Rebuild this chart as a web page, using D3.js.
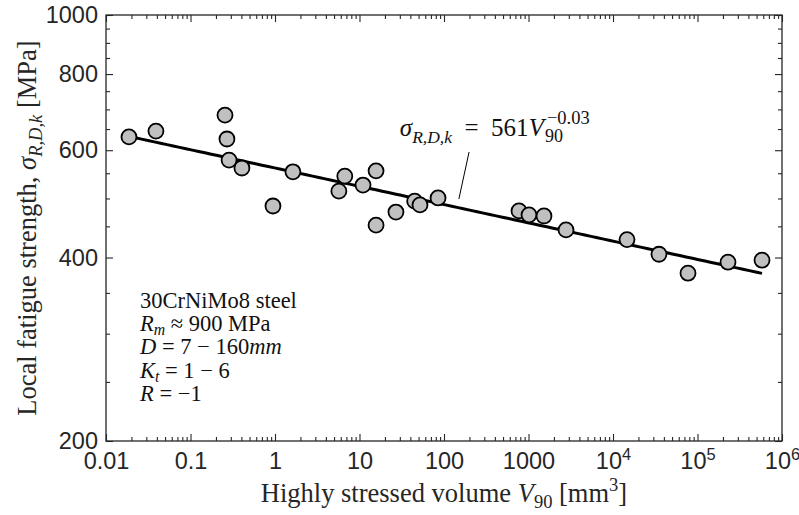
<!DOCTYPE html>
<html>
<head>
<meta charset="utf-8">
<script src="https://cdn.jsdelivr.net/npm/d3@7"></script>
<style>
  body { margin: 0; background: #fff; }
  svg { font-family: "Liberation Serif", "DejaVu Serif", serif; }
  .tick line { stroke: #262626; stroke-width: 1.1; }
  .tick text { font-size: 23.5px; fill: #262626; }
</style>
</head>
<body>
<div id="chart"></div>
<script>

// Highly stressed volume V90 [mm^3] for each specimen series
var volumes = [0.0187, 0.039, 0.256, 0.27, 0.286, 0.406, 0.946, 1.63, 5.7, 6.7,
               11, 15.7, 15.7, 27, 45, 52, 85, 772, 1014, 1525,
               2780, 14650, 35000, 77200, 229600, 580000];

// Local fatigue strength sigma_R,D,k [MPa]
var strengths = [631, 645, 685, 626, 578, 561, 486, 553, 514, 544,
                 526, 555, 452, 475, 495, 488, 501, 477, 470, 468,
                 444, 428, 405, 377, 393, 396];

// power law fit  sigma = a * V^b
var fitA = 561;
var fitB = -0.03;
var fitRange = [0.0187, 580000];

// axis ticks
var xTicks = [0.01, 0.1, 1, 10, 100, 1000, 1e4, 1e5, 1e6];
var xTickLabels = ["0.01", "0.1", "1", "10", "100", "1000", "10^4", "10^5", "10^6"];
var yTicks = [200, 400, 600, 800, 1000];
var yMinorTicks = [250, 300, 350, 450, 500, 550, 650, 700, 750, 850, 900, 950];

// info box lines
var infoLines = [
    [{t: "30CrNiMo8 steel"}],
    [{t: "R", i: 1}, {t: "m", i: 1, sub: 1}, {t: " \u2248 900 MPa"}],
    [{t: "D", i: 1}, {t: " = 7 \u2212 160"}, {t: "mm", i: 1}],
    [{t: "K", i: 1}, {t: "t", i: 1, sub: 1}, {t: " = 1 \u2212 6"}],
    [{t: "R", i: 1}, {t: " = \u22121"}]
];

var width = 799, height = 515;
var margin = {top: 15, right: 17, bottom: 74, left: 106};

var svg = d3.select("#chart").append("svg")
    .attr("width", width).attr("height", height);

var x = d3.scaleLog().domain([0.01, 1e6]).range([margin.left, width - margin.right]);
var y = d3.scaleLog().domain([200, 1000]).range([height - margin.bottom, margin.top]);

// minor ticks for the log x axis (2..9 in every decade)
var xMinorTicks = [];
d3.range(-2, 6).forEach(function(e){
    d3.range(2, 10).forEach(function(k){ xMinorTicks.push(k * Math.pow(10, e)); });
});

// append rich text runs (italic, sub, sup) into a text element
function addRuns(text, runs, subDy, supDy) {
    var shift = 0;
    runs.forEach(function(r){
        var ts = text.append("tspan").text(r.t);
        if (r.i) ts.attr("font-style", "italic");
        var target = r.sub ? (subDy || 6) : (r.sup ? (supDy || -9) : 0);
        if (r.sub || r.sup) ts.attr("font-size", "70%");
        if (target !== shift) { ts.attr("dy", target - shift); shift = target; }
    });
}

var x0 = x.range()[0], x1 = x.range()[1], y0 = y.range()[0], y1 = y.range()[1];

// minor ticks, all four sides, inward
svg.append("g").attr("transform", "translate(0," + y0 + ")")
    .call(d3.axisBottom(x).tickValues(xMinorTicks).tickSize(-4).tickFormat(""));
svg.append("g").attr("transform", "translate(0," + y1 + ")")
    .call(d3.axisTop(x).tickValues(xMinorTicks).tickSize(-4).tickFormat(""));
svg.append("g").attr("transform", "translate(" + x0 + ",0)")
    .call(d3.axisLeft(y).tickValues(yMinorTicks).tickSize(-4).tickFormat(""));
svg.append("g").attr("transform", "translate(" + x1 + ",0)")
    .call(d3.axisRight(y).tickValues(yMinorTicks).tickSize(-4).tickFormat(""));

// major ticks
var xAxis = svg.append("g").attr("class", "x-axis").attr("transform", "translate(0," + y0 + ")")
    .call(d3.axisBottom(x).tickValues(xTicks).tickSize(-7).tickPadding(11)
        .tickFormat(function(d, i){ return xTickLabels[i]; }));
svg.append("g").attr("transform", "translate(0," + y1 + ")")
    .call(d3.axisTop(x).tickValues(xTicks).tickSize(-7).tickFormat(""));
svg.append("g").attr("transform", "translate(" + x0 + ",0)")
    .call(d3.axisLeft(y).tickValues(yTicks).tickSize(-7).tickPadding(8).tickFormat(d3.format("d")));
svg.append("g").attr("transform", "translate(" + x1 + ",0)")
    .call(d3.axisRight(y).tickValues(yTicks).tickSize(-7).tickFormat(""));

svg.selectAll(".domain").remove();

// powers of ten as superscripts
xAxis.selectAll(".tick text").each(function(d, i){
    var lab = xTickLabels[i];
    if (lab.indexOf("^") < 0) return;
    var parts = lab.split("^");
    var t = d3.select(this).text("");
    t.append("tspan").text(parts[0]);
    t.append("tspan").text(parts[1]).attr("font-size", "70%").attr("dy", -9);
});

// frame
svg.append("rect")
    .attr("x", x0).attr("y", y1)
    .attr("width", x1 - x0).attr("height", y0 - y1)
    .attr("fill", "none").attr("stroke", "#262626").attr("stroke-width", 1.3);

// fit line
var fitPts = d3.range(0, 101).map(function(k){
    var lv = Math.log10(fitRange[0]) + k / 100 * (Math.log10(fitRange[1]) - Math.log10(fitRange[0]));
    var v = Math.pow(10, lv);
    return [v, fitA * Math.pow(v, fitB)];
});
svg.append("path")
    .attr("d", d3.line().x(function(d){ return x(d[0]); }).y(function(d){ return y(d[1]); })(fitPts))
    .attr("fill", "none").attr("stroke", "#000").attr("stroke-width", 3);

// data points
svg.selectAll(".pt").data(volumes).enter().append("circle")
    .attr("class", "pt")
    .attr("cx", function(d){ return x(d); })
    .attr("cy", function(d, i){ return y(strengths[i]); })
    .attr("r", 7.5)
    .attr("fill", "#c0c0c0").attr("stroke", "#000").attr("stroke-width", 1.8);

// equation annotation
var eqPos = [30, 633];
var eqLead = [[198, 596], [150, 499]];
svg.append("line")
    .attr("x1", x(eqLead[0][0])).attr("y1", y(eqLead[0][1]))
    .attr("x2", x(eqLead[1][0])).attr("y2", y(eqLead[1][1]))
    .attr("stroke", "#000").attr("stroke-width", 1);
var eq = svg.append("text").attr("x", x(eqPos[0])).attr("y", y(eqPos[1]))
    .attr("font-size", 25).attr("fill", "#111").attr("xml:space", "preserve");
addRuns(eq, [{t: "\u03c3", i: 1}, {t: "R,D,k", i: 1, sub: 1}, {t: "\u2002=\u2002561"}, {t: "V", i: 1}], 7);
var eqEnd = x(eqPos[0]) + eq.node().getComputedTextLength() + 1;
svg.append("text").attr("x", eqEnd).attr("y", y(eqPos[1]) + 6)
    .attr("font-size", 18).attr("fill", "#111").text("90");
svg.append("text").attr("x", eqEnd + 2).attr("y", y(eqPos[1]) - 12)
    .attr("font-size", 18.5).attr("fill", "#111").text("\u22120.03");

// info box
infoLines.forEach(function(runs, i){
    var t = svg.append("text").attr("x", x0 + 34).attr("y", y0 - 133 + i * 23.2)
        .attr("font-size", 22.5).attr("fill", "#111");
    addRuns(t, runs, 4);
});

// axis titles
var xt = svg.append("text").attr("x", (x0 + x1) / 2).attr("y", 502)
    .attr("text-anchor", "middle").attr("font-size", 26.5).attr("fill", "#262626");
addRuns(xt, [{t: "Highly stressed volume "}, {t: "V", i: 1}, {t: "90", sub: 1}, {t: " [mm"}, {t: "3", sup: 1}, {t: "]"}], 6, -11);

var yt = svg.append("text")
    .attr("transform", "translate(36," + ((y0 + y1) / 2) + ") rotate(-90)")
    .attr("text-anchor", "middle").attr("font-size", 26.5).attr("fill", "#262626");
addRuns(yt, [{t: "Local fatigue strength, "}, {t: "\u03c3", i: 1}, {t: "R,D,k", i: 1, sub: 1}, {t: " [MPa]"}], 6, -11);

</script>
</body>
</html>
